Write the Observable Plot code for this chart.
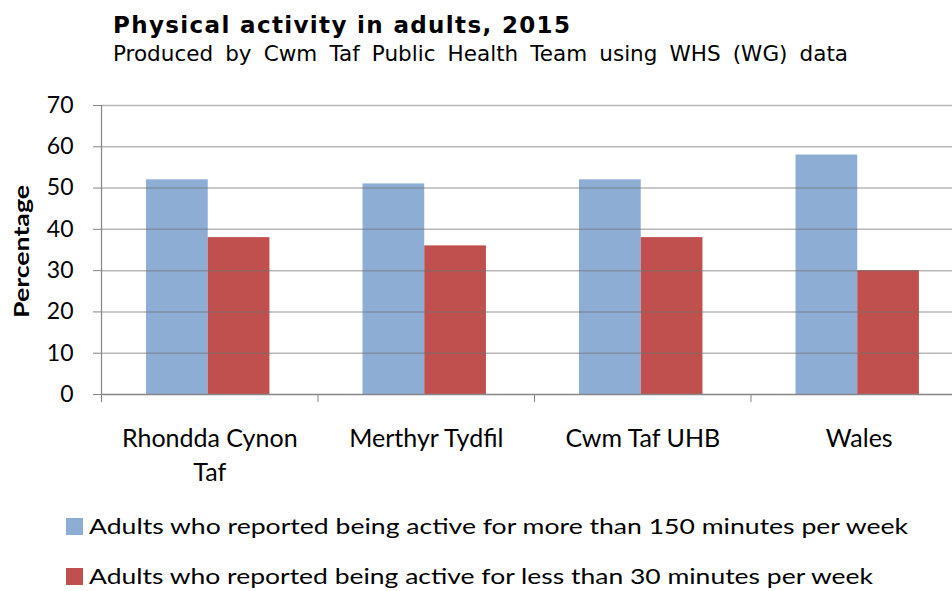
<!DOCTYPE html>
<html>
<head>
<meta charset="utf-8">
<script src="https://cdn.jsdelivr.net/npm/d3@7"></script>
<script src="https://cdn.jsdelivr.net/npm/@observablehq/plot@0.6"></script>
<style>
  html, body { margin: 0; padding: 0; background: #fff; overflow: hidden; }
  #wrap { position: relative; width: 952px; height: 591px; }
  #wrap > svg { position: absolute; left: 0; top: 0; }
</style>
</head>
<body>
<div id="wrap"></div>
<script>
// ---- data ----
const titleText = "Physical activity in adults, 2015";
const subtitleText = "Produced by Cwm Taf Public Health Team using WHS (WG) data";
const yLabel = "Percentage";
const categories = ["Rhondda Cynon Taf", "Merthyr Tydfil", "Cwm Taf UHB", "Wales"];
const categoryLabels = ["Rhondda Cynon\nTaf", "Merthyr Tydfil", "Cwm Taf UHB", "Wales"];
const seriesNames = [
  "Adults who reported being active for more than 150 minutes per week",
  "Adults who reported being active for less than 30 minutes per week"
];
const active150 = [52, 51, 52, 58];
const inactive30 = [38, 36, 38, 30];
const seriesColors = ["#8EADD5", "#C0504D"];
const yTicks = [0, 10, 20, 30, 40, 50, 60, 70];

// ---- table ----
const seriesValues = [active150, inactive30];
const rows = categories.flatMap((c, i) =>
  seriesNames.map((s, k) => ({ i, category: c, series: s, k, value: seriesValues[k][i] }))
);

const W = 952, H = 591;
const axisGray = "#868686";

const chart = Plot.plot({
  width: W,
  height: H,
  marginTop: 105,
  marginBottom: 197,
  marginLeft: 101,
  marginRight: 0,
  style: { fontFamily: "Lato, 'Open Sans', sans-serif", fontSize: "23px", color: "#000", background: "transparent" },
  x: { type: "linear", domain: [0, categories.length], range: [101, 967] },
  y: { domain: [0, 70] },
  color: { domain: seriesNames, range: seriesColors },
  marks: [
    Plot.rectY(rows, {
      x1: d => d.i + 0.208 + d.k * 0.285,
      x2: d => d.i + 0.493 + d.k * 0.285,
      y1: 0,
      y2: "value",
      fill: "series"
    }),
    Plot.ruleY(yTicks.filter(t => t > 0), { stroke: "#6f6f6f", strokeOpacity: 0.5, strokeWidth: 1.5 }),
    Plot.ruleY([0], { stroke: axisGray, strokeWidth: 1.5 }),
    Plot.ruleX([0], { stroke: axisGray, strokeWidth: 1.2 }),
    Plot.axisY({ ticks: yTicks, tickSize: 8, tickPadding: 20, tickFormat: d => String(d), label: null, stroke: axisGray, fontSize: 23 }),
    Plot.axisX({ ticks: d3.range(categories.length + 1), tickSize: 8, tickFormat: () => "", label: null, stroke: axisGray }),
    Plot.text(categories, {
      x: (d, i) => i + 0.5,
      y: () => 0,
      text: (d, i) => categoryLabels[i],
      lineAnchor: "top",
      dy: 28,
      fontSize: 25,
      lineHeight: 1.36,
      fill: "#000"
    })
  ]
});
document.getElementById("wrap").appendChild(chart);

// ---- overlay: title, subtitle, y label, legend ----
const ov = d3.select("#wrap").append("svg")
  .attr("width", W).attr("height", H);

const ttl = ov.append("text")
  .attr("x", 113).attr("y", 33)
  .style("font-family", "'DejaVu Sans', Verdana, sans-serif")
  .style("font-weight", "bold").style("font-size", "23px")
  .text(titleText);
{
  const natural = ttl.node().getComputedTextLength();
  ttl.attr("textLength", 457).attr("lengthAdjust", natural < 457 ? "spacing" : "spacingAndGlyphs");
}

const sub = ov.append("text")
  .attr("x", 113).attr("y", 61)
  .style("font-family", "'DejaVu Sans', Verdana, sans-serif")
  .style("font-size", "21.5px")
  .text(subtitleText);
{
  const natural = sub.node().getComputedTextLength();
  const nSpaces = subtitleText.split(" ").length - 1;
  const extra = (735 - natural) / nSpaces;
  if (extra > 0) sub.style("word-spacing", extra + "px");
  else sub.attr("textLength", 735).attr("lengthAdjust", "spacingAndGlyphs");
}

ov.append("text")
  .attr("transform", "translate(29,251.5) rotate(-90)")
  .attr("text-anchor", "middle")
  .attr("textLength", 133).attr("lengthAdjust", "spacingAndGlyphs")
  .style("font-family", "Lato, sans-serif")
  .style("font-weight", "bold").style("font-size", "21px")
  .text(yLabel);

const legendY = [518, 568];
const legendLen = [819, 784];
seriesNames.forEach((s, k) => {
  ov.append("rect")
    .attr("x", 66).attr("y", legendY[k]).attr("width", 17).attr("height", 17)
    .attr("fill", seriesColors[k]);
  ov.append("text")
    .attr("x", 89).attr("y", legendY[k] + 15.5)
    .attr("textLength", legendLen[k]).attr("lengthAdjust", "spacingAndGlyphs")
    .style("font-family", "Lato, sans-serif")
    .style("font-size", "22px")
    .text(s);
});
</script>
</body>
</html>
